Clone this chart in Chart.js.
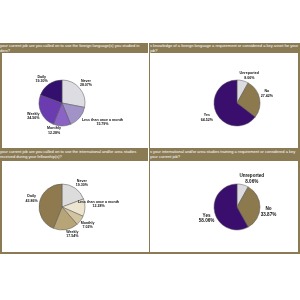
<!DOCTYPE html>
<html><head><meta charset="utf-8">
<script src="https://cdn.jsdelivr.net/npm/chart.js@4.4.1/dist/chart.umd.min.js"></script>
<style>
html,body{margin:0;padding:0;background:#fff;width:300px;height:300px;overflow:hidden;}
#frame{position:absolute;left:0;top:43px;width:296px;height:209px;border:2px solid #8a7b55;border-top:none;}
.hdr{position:absolute;background:#8a7b55;color:#fff;font-family:"Liberation Sans",Arial,sans-serif;font-size:4px;line-height:4.6px;white-space:nowrap;overflow:hidden;padding-top:1px;box-sizing:border-box;}
.vline{position:absolute;left:148.5px;width:1.5px;background:#8a7b55;}
canvas{position:absolute;}
</style></head>
<body>
<div id="frame"></div>
<div class="vline" style="top:43px;height:211px"></div>
<div class="hdr" style="left:0;top:43px;width:148px;height:10px">your current job are you called on to use the foreign language(s) you studied in<br>ders?</div>
<div class="hdr" style="left:150px;top:43px;width:150px;height:10px">s knowledge of a foreign language a requirement or considered a key asset for your<br>job?</div>
<div class="hdr" style="left:0;top:148px;width:148px;height:13px;padding-top:2px">your current job are you called on to use the international and/or area studies<br>received during your fellowship(s)?</div>
<div class="hdr" style="left:150px;top:148px;width:150px;height:13px;padding-top:2px">s your international and/or area studies training a requirement or considered a key<br>your current job?</div>
<canvas id="c1" width="160" height="110" style="left:-18px;top:48px"></canvas>
<canvas id="c2" width="160" height="110" style="left:157px;top:48px"></canvas>
<canvas id="c3" width="160" height="110" style="left:-18px;top:152px"></canvas>
<canvas id="c4" width="160" height="110" style="left:157px;top:152px"></canvas>
<script>
// ---- data ----
const freqLabels = ['Never', 'Less than once a month', 'Monthly', 'Weekly', 'Daily'];
const langUse = [28.07, 15.79, 12.28, 24.56, 19.30];
const areaUse = [19.30, 12.28, 7.02, 17.54, 43.86];
const reqLabels = ['Unreported', 'No', 'Yes'];
const langReq = [8.06, 27.42, 64.52];
const areaReq = [8.06, 33.87, 58.06];

// ---- styles / label layout (text nudges, px) ----
const purpleFreq = ['#dcdce2', '#a193c8', '#8a63c4', '#6a3caf', '#33106e'];
const brownFreq = ['#dcdcdc', '#ede5d0', '#d1c49f', '#b7a578', '#8e7a4e'];
const reqColors = ['#dcdce0', '#8c7a4e', '#3a0e6c'];
const nudge1 = [[-1.5, 1], [15, -2], [-8, -5.7], [1.5, 0], [-1.5, 3]];
const nudge2 = [[4, 4.5], [-2.5, -3], [-0.5, 0]];
const nudge3 = [[1, 3], [3.5, -4], [-1, -1.5], [5, -5.5], [2, -2]];
const nudge4 = [[6.5, 4], [-1.5, 5], [1.5, 3]];

const labelPlugin = {
  id: 'sliceLabels',
  afterDatasetsDraw(chart, args, opts) {
    const ctx = chart.ctx;
    const meta = chart.getDatasetMeta(0);
    const ds = chart.data.datasets[0];
    const fs = opts.size, lh = opts.lineHeight, gap = opts.gap;
    ctx.save();
    ctx.fillStyle = '#111';
    ctx.font = 'bold ' + fs + 'px "Liberation Sans", Arial, sans-serif';
    ctx.textAlign = 'center';
    ctx.textBaseline = 'middle';
    meta.data.forEach((arc, i) => {
      const p = arc.getProps(['x', 'y', 'startAngle', 'endAngle', 'outerRadius'], true);
      const mid = (p.startAngle + p.endAngle) / 2;
      const n = opts.nudge[i] || [0, 0];
      const cx = p.x + Math.cos(mid) * (p.outerRadius + gap) + n[0];
      const cy = p.y + Math.sin(mid) * (p.outerRadius + gap) + n[1];
      const lines = [chart.data.labels[i], ds.data[i].toFixed(2) + '%'];
      lines.forEach((t, k) => ctx.fillText(t, cx, cy + lh * (k - 0.5)));
    });
    ctx.restore();
  }
};

function makePie(id, labels, values, colors, size, lineHeight, nudge) {
  new Chart(document.getElementById(id), {
    type: 'pie',
    data: { labels: labels, datasets: [{ data: values, backgroundColor: colors, borderColor: '#555', borderWidth: 0.5, radius: 23 }] },
    options: {
      responsive: false, animation: false, events: [],
      layout: { padding: 0 },
      plugins: { legend: { display: false }, tooltip: { enabled: false },
        sliceLabels: { size: size, lineHeight: lineHeight, gap: 10, nudge: nudge } }
    },
    plugins: [labelPlugin]
  });
}
makePie('c1', freqLabels, langUse, purpleFreq, 3.6, 4.4, nudge1);
makePie('c2', reqLabels, langReq, reqColors, 3.6, 4.4, nudge2);
makePie('c3', freqLabels, areaUse, brownFreq, 3.6, 4.4, nudge3);
makePie('c4', reqLabels, areaReq, reqColors, 4.6, 5.8, nudge4);
</script>
</body></html>
